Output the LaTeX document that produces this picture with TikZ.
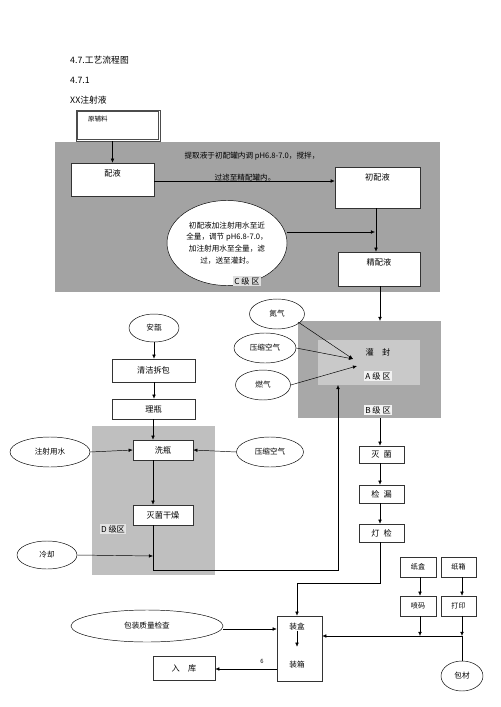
\documentclass[tikz,border=0pt]{standalone}
\usepackage{fontspec}
\setmainfont{Noto Sans CJK SC}
\usepackage{tikz}
\usetikzlibrary{calc}
\usetikzlibrary{positioning}
\usetikzlibrary{arrows.meta}
\usetikzlibrary{shapes.geometric}
\tikzset{
  myarrow/.style={
    draw=black,
    thin,
    -{Latex[length=3.5pt,width=3pt]},
  },
  myline/.style={
    draw=black,
    thin,
  },
  mybox/.style={
    draw=black!80,
    shape=rectangle,
    fill=white,
    thin,
    align=center,
    inner sep=1pt,
    font=\fontsize{7}{9}\selectfont
  },
  toptext/.style={
    label={[anchor=north,yshift=-2pt,font=\fontsize{7}{9}\selectfont]north:#1}
  },
  myoval/.style={
    draw=black,
    shape=ellipse,
    fill=white,
    thin,
    align=center,
    inner sep=0pt,
    font=\fontsize{6.5}{8}\selectfont
  },
  myzone/.style={
    fill=#1,
    draw=none,
  },
  zonelabel/.style={
    fill=#1,
    inner sep=1pt,
    font=\fontsize{7}{9}\selectfont
  },
  plaintext/.style={
    inner sep=0pt,
    font=\fontsize{6.5}{8}\selectfont
  },
}

\begin{document}
\begin{tikzpicture}[x=0.03cm,y=-0.03cm]
    \useasboundingbox (0,0) rectangle (500,707);

    % headings
    \node [plaintext, anchor=west, font=\fontsize{7.5}{9}\selectfont] (title) at (70,60) {4.7.工艺流程图};
    \node [plaintext, anchor=west, font=\fontsize{7.5}{9}\selectfont] (sub) at (70,80) {4.7.1};
    \node [plaintext, anchor=west, font=\fontsize{7.5}{9}\selectfont] (prod) at (70,100) {XX注射液};

    % zones
    \fill [myzone=gray!72] (55,142) rectangle (440,292);
    \fill [myzone=gray!68] (298,321) rectangle (441,418);
    \fill [myzone=gray!42] (318,340) rectangle (420,385);
    \fill [myzone=gray!50] (92,426) rectangle (215,575);

    % C zone
    \node [mybox, draw=black!70, line width=0.8pt, minimum width=84*0.03cm, minimum height=31*0.03cm] (raw) at (118,125.5) {};
    \draw [black!70, line width=0.5pt] ($(raw.north west)+(2,2)$) rectangle ($(raw.south east)+(-2,-2)$);
    \node [plaintext, font=\fontsize{5.5}{7}\selectfont, anchor=west] (rawtext) at (88,119) {原辅料};
    \node [mybox, minimum width=83*0.03cm, minimum height=33*0.03cm, toptext=配液] (mix) at (112.5,179.5) {};
    \node [mybox, minimum width=85*0.03cm, minimum height=41*0.03cm, toptext=初配液] (first) at (377.5,187.5) {};
    \node [mybox, minimum width=82*0.03cm, minimum height=34*0.03cm, toptext=精配液] (fine) at (379,269) {};
    \node [plaintext] (note1) at (252,156) {提取液于初配罐内调 pH6.8-7.0，搅拌，};
    \node [plaintext] (note2) at (245,178) {过滤至精配罐内。};
    \node [myoval, minimum width=120*0.03cm, minimum height=85*0.03cm, font=\fontsize{6.5}{10}\selectfont] (finenote) at (227,243)
      {初配液加注射用水至近\\全量，调节 pH6.8-7.0，\\加注射用水至全量，滤\\过，送至灌封。};
    \node [zonelabel=gray!25] (czone) at (247,281) {C 级 区};
    \coordinate (joinC) at (375,232);

    \draw [myarrow] (mix.north |- raw.south) -- (mix.north);
    \draw [myarrow] (mix.east |- 0,181) -- (first.west |- 0,181);
    \draw [myarrow] (first.south -| 376,0) -- (fine.north -| 376,0);
    \draw [myarrow] (finenote.east |- joinC) -- (joinC);

    % filling, A/B zone
    \node [plaintext, font=\fontsize{7}{9}\selectfont] (fill) at (378,352) {灌\quad 封};
    \node [zonelabel=gray!10] (azone) at (378,376) {A 级 区};
    \node [zonelabel=gray!10] (bzone) at (378,410) {B 级 区};
    \node [myoval, minimum width=55*0.03cm, minimum height=30*0.03cm] (nitro) at (277,314) {氮气};
    \node [myoval, minimum width=62*0.03cm, minimum height=30*0.03cm] (air1) at (265,348) {压缩空气};
    \node [myoval, minimum width=55*0.03cm, minimum height=30*0.03cm] (gas) at (263,385) {燃气};
    \coordinate (fillin) at (353,359);
    \coordinate (fillin2) at (357,366);
    \coordinate (ampin) at (338,385);

    \draw [myarrow] (fine.south -| 380,0) -- (380,321);
    \draw [myarrow] (298,322) -- (fillin);
    \draw [myarrow] (air1.east) -- (fillin);
    \draw [myarrow] (gas.east) -- (fillin2);

    % bottles, D zone
    \node [myoval, minimum width=50*0.03cm, minimum height=28*0.03cm] (amp) at (154,328) {安瓿};
    \node [mybox, minimum width=83*0.03cm, minimum height=23*0.03cm] (clean) at (153.5,370.5) {清洁拆包};
    \node [mybox, minimum width=83*0.03cm, minimum height=20*0.03cm] (sort) at (153.5,409) {理瓶};
    \node [mybox, minimum width=60*0.03cm, minimum height=20*0.03cm] (wash) at (163,450) {洗瓶};
    \node [mybox, minimum width=60*0.03cm, minimum height=20*0.03cm] (dry) at (163,515) {灭菌干燥};
    \node [zonelabel=gray!22] (dzone) at (113,529) {D 级区};
    \node [myoval, minimum width=80*0.03cm, minimum height=30*0.03cm] (water) at (50,452) {注射用水};
    \node [myoval, minimum width=67*0.03cm, minimum height=30*0.03cm] (air2) at (270,452) {压缩空气};
    \node [myoval, minimum width=60*0.03cm, minimum height=28*0.03cm] (cool) at (47,555) {冷却};
    \coordinate (drydown) at (153,570);

    \draw [myarrow] (amp.south) -- (clean.north -| amp.south);
    \draw [myarrow] (clean.south -| 154,0) -- (sort.north -| 154,0);
    \draw [myarrow] (sort.south -| 153,0) -- (wash.north -| 153,0);
    \draw [myarrow] (wash.south -| 153,0) -- (dry.north -| 153,0);
    \draw [myarrow] (water.east) -- (wash.west);
    \draw [myarrow] (air2.west) -- (wash.east);
    \draw [myarrow] (cool.east) -- (153,556);
    \draw [myarrow] (dry.south -| drydown) -- (drydown) -- (drydown -| ampin) -- (ampin);

    % sterilising, inspection
    \node [mybox, minimum width=45*0.03cm, minimum height=17*0.03cm] (steril) at (381.5,454.5) {灭\enspace 菌};
    \node [mybox, minimum width=45*0.03cm, minimum height=18*0.03cm] (leak) at (381.5,494) {检\enspace 漏};
    \node [mybox, minimum width=45*0.03cm, minimum height=18*0.03cm] (light) at (381.5,533) {灯\enspace 检};
    \coordinate (turn) at (380,583);

    \draw [myarrow] (380,418) -- (steril.north -| 380,0);
    \draw [myarrow] (steril.south -| 380,0) -- (leak.north -| 380,0);
    \draw [myarrow] (leak.south -| 380,0) -- (light.north -| 380,0);

    % packing
    \node [mybox, minimum width=45*0.03cm, minimum height=65*0.03cm] (pack) at (299.5,648.5) {};
    \node [plaintext] (boxing) at (297,627) {装盒};
    \node [plaintext] (casing) at (297,665) {装箱};
    \node [myoval, minimum width=152*0.03cm, minimum height=32*0.03cm] (qc) at (147,626) {包装质量检查};
    \node [mybox, minimum width=62*0.03cm, minimum height=24*0.03cm] (store) at (184,668) {入\quad 库};
    \node [plaintext, font=\fontsize{5}{6}\selectfont] (six) at (262,661) {6};
    \node [mybox, minimum width=36*0.03cm, minimum height=20*0.03cm, font=\fontsize{6}{8}\selectfont] (carton) at (418,567) {纸盒};
    \node [mybox, minimum width=35*0.03cm, minimum height=20*0.03cm, font=\fontsize{6}{8}\selectfont] (crate) at (458.5,567) {纸箱};
    \node [mybox, minimum width=36*0.03cm, minimum height=20*0.03cm, font=\fontsize{6}{8}\selectfont] (code) at (418,606) {喷码};
    \node [mybox, minimum width=35*0.03cm, minimum height=20*0.03cm, font=\fontsize{6}{8}\selectfont] (print) at (458.5,606) {打印};
    \node [myoval, minimum width=42*0.03cm, minimum height=30*0.03cm] (material) at (462,676) {包材};
    \coordinate (bus) at (462,636);

    \draw [myarrow] (light.south -| turn) -- (turn) -- (turn -| 297,0) -- (pack.north -| 297,0);
    \draw [myarrow] (boxing.south) -- ++(0,16);
    \draw [myarrow] (qc.east |- 0,629) -- (pack.west |- 0,629);
    \draw [myarrow] (pack.west |- 0,669) -- (store.east |- 0,669);
    \draw [myarrow] (carton.south -| 420,0) -- (code.north -| 420,0);
    \draw [myarrow] (crate.south -| 462,0) -- (print.north -| 462,0);
    \draw [myarrow] (code.south -| 420,0) -- (bus -| 420,0);
    \draw [myarrow] (print.south -| bus) -- (bus);
    \draw [myarrow] (bus) -- (pack.east |- bus);
    \draw [myline] (material.north) -- (bus);

  \end{tikzpicture}
\end{document}
